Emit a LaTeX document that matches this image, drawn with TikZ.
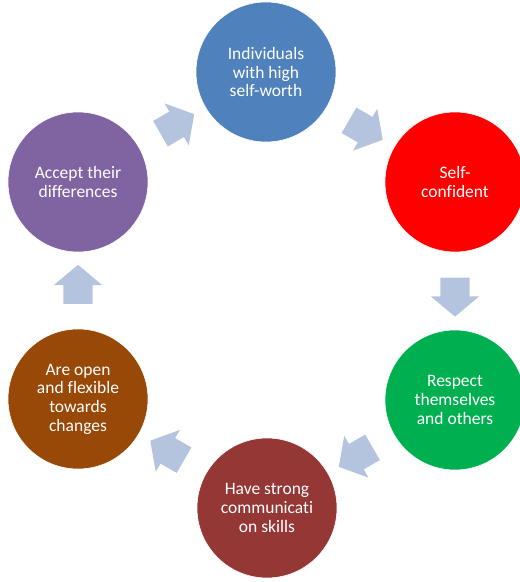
\documentclass[tikz,border=0pt]{standalone}
\usepackage{fontspec}
\setmainfont{Carlito}[Ligatures=NoCommon]
\usetikzlibrary{shapes.arrows,calc}
\definecolor{cblue}{HTML}{4F81BD}
\definecolor{cred}{HTML}{FF0000}
\definecolor{cgreen}{HTML}{00B050}
\definecolor{cdred}{HTML}{953735}
\definecolor{cbrown}{HTML}{984807}
\definecolor{cpurple}{HTML}{8064A2}
\definecolor{carrow}{HTML}{B4C4DF}
\tikzset{
  bubble/.style={circle, minimum size=140pt, inner sep=0pt, draw=white, line width=0.6pt,
    text=white, align=center, font=\fontsize{17.5}{18.6}\selectfont},
  blockarrow/.style={single arrow, fill=carrow, draw=none, minimum height=39pt,
    single arrow head extend=9.5pt, single arrow tip angle=100,
    inner xsep=0pt, inner ysep=14.5pt, text height=0pt, text depth=0pt, text width=0pt}
}
\begin{document}
\begin{tikzpicture}[x=1pt,y=1pt]
\useasboundingbox (0,0) rectangle (520,582);
\clip (0,0) rectangle (520,582);
\node[bubble, fill=cblue] (top) at (266,510) {Individuals\\with high\\self-worth};
\node[bubble, fill=cred] (rt) at (455,400) {Self-\\confident};
\node[bubble, fill=cgreen] (rb) at (455,182) {Respect\\themselves\\and others};
\node[bubble, fill=cdred] (bot) at (267,74) {Have strong\\communicat\kern0pt i\\on skills};
\node[bubble, fill=cbrown] (lb) at (78,183) {Are open\\and f\kern0pt lexible\\towards\\changes};
\node[bubble, fill=cpurple] (lt) at (78,400) {Accept their\\differences};
\node[blockarrow, rotate=30] (a1) at ($(lt)!0.5!(top)$) {};
\node[blockarrow, rotate=-30] (a2) at ($(top)!0.5!(rt)$) {};
\node[blockarrow, rotate=-90] (a3) at ($(rt)!0.5!(rb)$) {};
\node[blockarrow, rotate=-150] (a4) at ($(rb)!0.5!(bot)$) {};
\node[blockarrow, rotate=150] (a5) at ($(bot)!0.5!(lb)$) {};
\node[blockarrow, rotate=90] (a6) at ($(lb)!0.5!(lt)$) {};
\end{tikzpicture}
\end{document}
